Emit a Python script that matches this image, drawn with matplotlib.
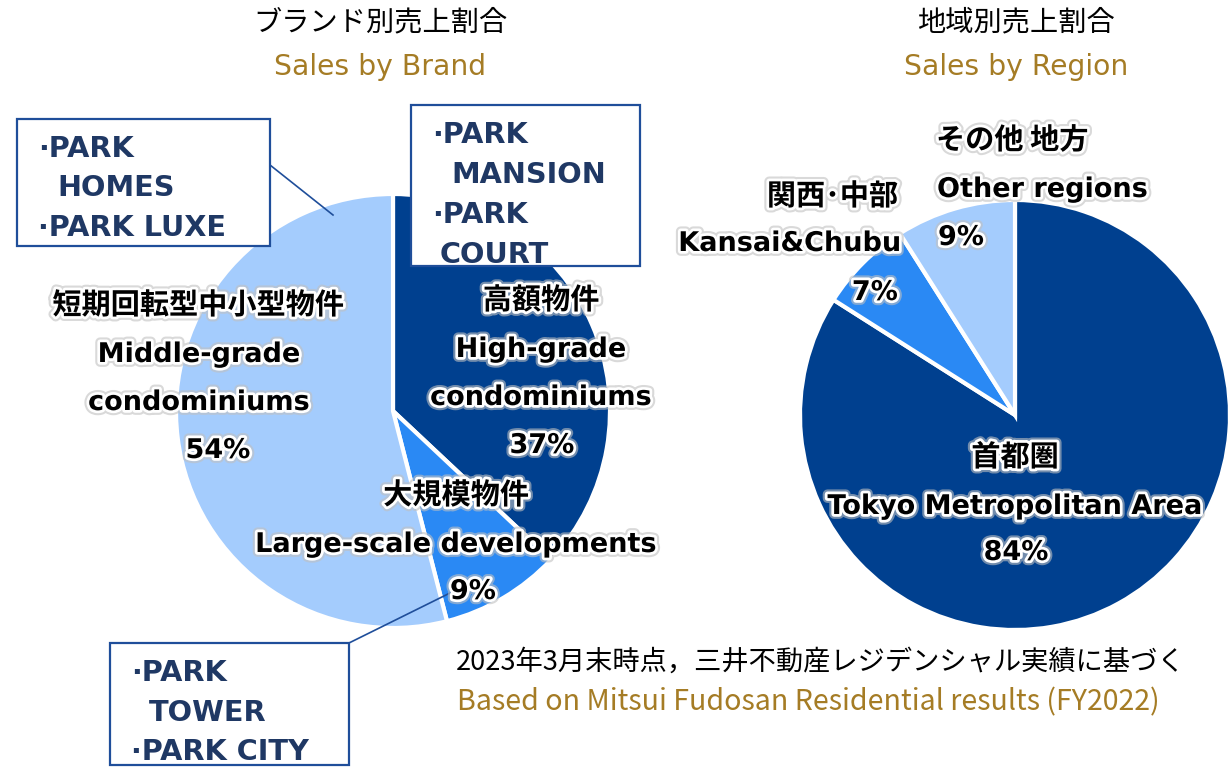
import matplotlib
matplotlib.use("Agg")
import matplotlib.pyplot as plt
import matplotlib.patheffects as pe
from matplotlib.patches import Rectangle

W, H = 1231, 769

# ---- data ----
brand_labels_jp = ["高額物件", "大規模物件", "短期回転型中小型物件"]
brand_labels_en = ["High-grade\ncondominiums", "Large-scale developments", "Middle-grade\ncondominiums"]
brand_values = [37, 9, 54]

region_labels_jp = ["首都圏", "関西･中部", "その他 地方"]
region_labels_en = ["Tokyo Metropolitan Area", "Kansai&Chubu", "Other regions"]
region_values = [84, 7, 9]

box_texts = [["·PARK", "HOMES", "·PARK LUXE"],
             ["·PARK", "MANSION", "·PARK", "COURT"],
             ["·PARK", "TOWER", "·PARK CITY"]]

titles_jp = ["ブランド別売上割合", "地域別売上割合"]
titles_en = ["Sales by Brand", "Sales by Region"]
note_jp = "2023年3月末時点，三井不動産レジデンシャル実績に基づく"
note_en = "Based on Mitsui Fudosan Residential results (FY2022)"

colors = ["#00408F", "#2A89F4", "#A4CCFD"]
NAVY = "#1F3864"
BORDER = "#1F4E9A"
BROWN = "#A57C25"

fig = plt.figure(figsize=(W / 100, H / 100), dpi=100)
ax = fig.add_axes([0, 0, 1, 1])

def Y(py):
    return H - py

ax.pie(brand_values, colors=colors, startangle=90, counterclock=False,
       center=(393, Y(411)), radius=217,
       wedgeprops=dict(edgecolor="white", linewidth=3))
ax.pie(region_values, colors=colors, startangle=90, counterclock=False,
       center=(1015, Y(415)), radius=215,
       wedgeprops=dict(edgecolor="white", linewidth=3))

ax.set_xlim(0, W)
ax.set_ylim(0, H)
ax.set_aspect("equal")
ax.axis("off")

halo = [pe.Stroke(linewidth=7, foreground="#c0c0c0", alpha=0.6),
        pe.Stroke(linewidth=4, foreground="white"), pe.Normal()]
EN = ["DejaVu Sans", "Noto Sans CJK JP"]
JP = ["Noto Sans CJK JP", "DejaVu Sans"]

def lab(x, y, s, jp=False, ha="center", size=None):
    ax.text(x, Y(y), s, ha=ha, va="center", fontsize=size or (21 if jp else 19.5),
            fontweight="bold", family=JP if jp else EN, color="black",
            path_effects=halo, zorder=5)

# brand labels
lab(541, 300, brand_labels_jp[0], jp=True)
lab(541, 350, "High-grade")
lab(541, 398, "condominiums")
lab(542, 446, f"{brand_values[0]}%")

lab(198, 305, brand_labels_jp[2], jp=True)
lab(199, 355, "Middle-grade")
lab(199, 403, "condominiums")
lab(218, 451, f"{brand_values[2]}%")

lab(456, 495, brand_labels_jp[1], jp=True)
lab(456, 545, brand_labels_en[1])
lab(473, 592, f"{brand_values[1]}%")

# region labels
lab(1015, 457, region_labels_jp[0], jp=True)
lab(1015, 507, region_labels_en[0])
lab(1016, 553, f"{region_values[0]}%")

lab(898, 196, region_labels_jp[1], jp=True, ha="right")
lab(901, 244, region_labels_en[1], ha="right")
lab(898, 293, f"{region_values[1]}%", ha="right")

lab(936, 140, region_labels_jp[2], jp=True, ha="left")
lab(937, 190, region_labels_en[2], ha="left")
lab(938, 238, f"{region_values[2]}%", ha="left")

# titles
for cx, tj, te in [(380, titles_jp[0], titles_en[0]), (1016, titles_jp[1], titles_en[1])]:
    ax.text(cx, Y(22), tj, ha="center", va="center", fontsize=20.3, family=JP, color="black")
    ax.text(cx, Y(67), te, ha="center", va="center", fontsize=20.3, family=EN, color=BROWN)

ax.text(456, Y(662), note_jp, ha="left", va="center", fontsize=19.6, family=JP, color="black")
ax.text(457, Y(702), note_en, ha="left", va="center", fontsize=20.6, family=JP, color=BROWN)

# boxes
def box(x0, y0, x1, y1, lines, xs, ys):
    ax.add_patch(Rectangle((x0, Y(y1)), x1 - x0, y1 - y0, facecolor="white",
                           edgecolor=BORDER, linewidth=1.6, zorder=6))
    for s, x, y in zip(lines, xs, ys):
        ax.text(x, Y(y), s, ha="left", va="center", fontsize=20.7, fontweight="bold",
                family=EN, color=NAVY, zorder=7)

box(17, 119, 270, 246, box_texts[0], [38, 57, 38], [149, 188, 228])
box(411, 105, 640, 266, box_texts[1], [432, 451, 432, 440], [135, 175, 215, 255])
box(110, 643, 349, 765, box_texts[2], [131, 149, 131], [673, 713, 752])

ax.plot([270, 333], [Y(165), Y(215)], color=BORDER, lw=1.2, zorder=4)
ax.plot([349, 450], [Y(643), Y(593)], color=BORDER, lw=1.2, zorder=4)

fig.savefig("out.png", dpi=100)
